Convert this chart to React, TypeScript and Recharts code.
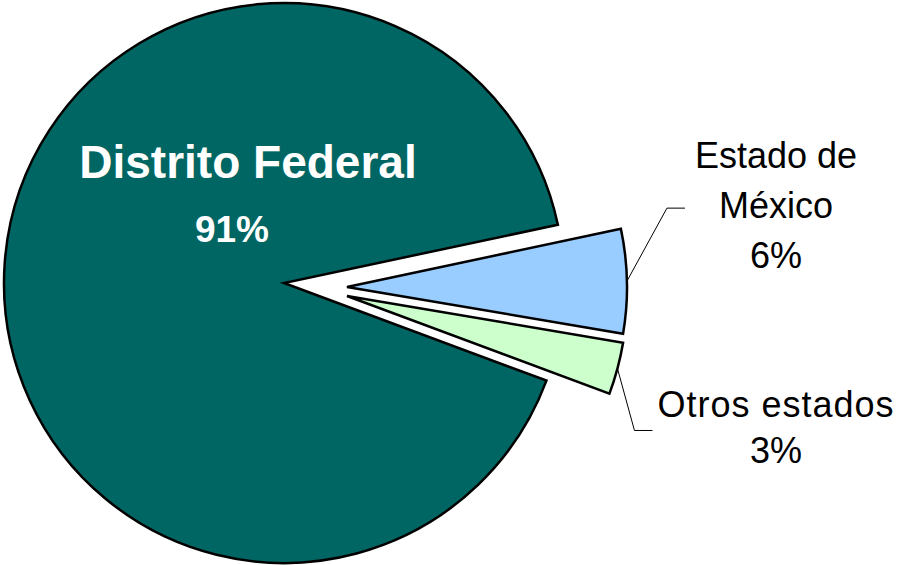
import { PieChart, Pie, Cell } from 'recharts';

// slice order runs counter-clockwise from 12 degrees
const names = ['Distrito Federal', 'Otros estados', 'Estado de México'];
const shares = [91, 3, 6];
const labelLines = [['Distrito Federal'], ['Otros estados'], ['Estado de', 'México']];
const colors = ['#006663', '#CCFFCC', '#99CCFF'];

const data = names.map((name, i) => ({ name, value: shares[i] }));

// where each exploded copy of the pie sits
const centers = [
  { cx: 284, cy: 283 },
  { cx: 347, cy: 296 },
  { cx: 347, cy: 287 },
];

const RAD = Math.PI / 180;
const font = '"Liberation Sans", Arial, sans-serif';

function renderLabel(active: number) {
  return (props: any) => {
    const { index, cx, cy, midAngle, outerRadius } = props;
    if (index !== active) return null;
    const pct = `${shares[index]}%`;

    if (index === 0) {
      return (
        <g>
          <text x={cx - 36} y={cy - 105} textAnchor="middle" fill="#fff" fontFamily={font} fontWeight="bold" fontSize={46}>
            {labelLines[0][0]}
          </text>
          <text x={cx - 52} y={cy - 41} textAnchor="middle" fill="#fff" fontFamily={font} fontWeight="bold" fontSize={37}>
            {pct}
          </text>
        </g>
      );
    }

    const sx = cx + outerRadius * Math.cos(-midAngle * RAD);
    const sy = cy + outerRadius * Math.sin(-midAngle * RAD);
    const upper = index === 2;
    const ex = upper ? sx + 40 : sx + 17;
    const ey = upper ? sy - 73 : sy + 62;
    const hx = ex + 18;
    const tx = upper ? 776 : 776;
    const lines = [...labelLines[index], pct];
    const firstBase = upper ? 168 : 417;
    const step = upper ? 50 : 46;

    return (
      <g>
        <polyline points={`${sx},${sy} ${ex},${ey} ${hx},${ey}`} fill="none" stroke="#000" strokeWidth={1} />
        {lines.map((t, k) => (
          <text
            key={k}
            x={tx}
            y={firstBase + k * step}
            textAnchor="middle"
            fill="#000"
            fontFamily={font}
            fontSize={36}
            letterSpacing={upper || k > 0 ? 0 : 1}
          >
            {t}
          </text>
        ))}
      </g>
    );
  };
}

export default function App() {
  return (
    <div style={{ position: 'absolute', left: 0, top: 0, background: '#fff' }}>
      <PieChart width={899} height={565} margin={{ top: 0, right: 0, bottom: 0, left: 0 }}>
        {centers.map((c, p) => (
          <Pie
            key={p}
            data={data}
            dataKey="value"
            nameKey="name"
            cx={c.cx}
            cy={c.cy}
            outerRadius={280}
            startAngle={12}
            endAngle={372}
            isAnimationActive={false}
            labelLine={false}
            label={renderLabel(p)}
          >
            {data.map((d, i) => (
              <Cell
                key={d.name}
                fill={i === p ? colors[i] : 'none'}
                stroke={i === p ? '#000' : 'none'}
                strokeWidth={2.5}
              />
            ))}
          </Pie>
        ))}
      </PieChart>
    </div>
  );
}
